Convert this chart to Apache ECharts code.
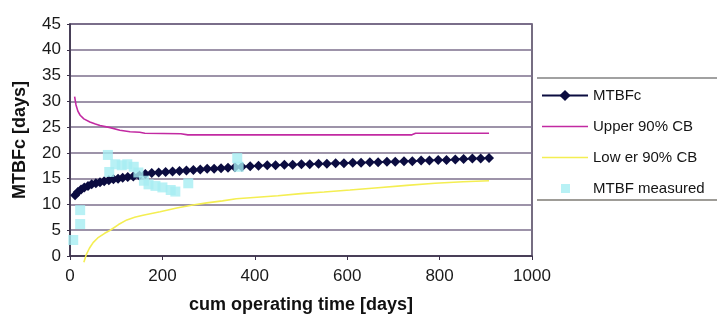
<!DOCTYPE html>
<html>
<head>
<meta charset="utf-8">
<script src="https://cdn.jsdelivr.net/npm/echarts@6/dist/echarts.min.js"></script>
<style>
  html, body { margin: 0; padding: 0; background: #ffffff; }
  #chart { width: 717px; height: 324px; }
</style>
</head>
<body>
<div id="chart"></div>
<script>
// Cumulative MTBF estimate [cum operating time (days), MTBFc (days)]
var mtbfc = [
  [11, 11.8], [17, 12.4], [24, 12.9], [31, 13.3], [39, 13.6], [47, 13.9],
  [56, 14.1], [65, 14.3], [74, 14.5], [84, 14.7], [94, 14.9], [104, 15.0],
  [114, 15.2], [125, 15.3], [137, 15.4], [150, 15.6], [163, 15.9], [177, 16.1],
  [192, 16.2], [207, 16.3], [222, 16.4], [237, 16.5], [252, 16.6], [267, 16.7],
  [282, 16.8], [297, 16.9], [312, 16.9], [327, 17.0], [342, 17.1], [357, 17.2],
  [372, 17.3], [390, 17.4], [408, 17.5], [427, 17.6], [445, 17.6], [464, 17.7],
  [482, 17.7], [501, 17.8], [519, 17.8], [538, 17.9], [556, 17.9], [575, 18.0],
  [593, 18.0], [612, 18.1], [630, 18.1], [649, 18.2], [667, 18.2], [686, 18.3],
  [704, 18.3], [723, 18.4], [741, 18.4], [760, 18.5], [778, 18.5], [797, 18.6],
  [815, 18.6], [834, 18.7], [852, 18.8], [871, 18.9], [889, 18.9], [907, 19.0]
];

// Upper 90% confidence bound
var upperCB = [
  [10, 30.9], [13, 29.3], [17, 28.1], [22, 27.3], [30, 26.6], [43, 26.0],
  [55, 25.6], [65, 25.3], [87, 24.9], [108, 24.4], [130, 24.1], [151, 24.0],
  [162, 23.8], [240, 23.7], [255, 23.5], [740, 23.5], [748, 23.8], [907, 23.8]
];

// Lower 90% confidence bound
var lowerCB = [
  [30, -1.2], [35, 0.2], [42, 1.5], [50, 2.6], [60, 3.5], [75, 4.4], [87, 5.0],
  [105, 6.1], [123, 7.0], [140, 7.5], [158, 7.9], [195, 8.6], [231, 9.3],
  [266, 9.9], [296, 10.3], [330, 10.7], [360, 11.1], [390, 11.3], [450, 11.7],
  [500, 12.1], [550, 12.4], [606, 12.8], [660, 13.2], [729, 13.7], [790, 14.1],
  [851, 14.4], [907, 14.6]
];

// Individually measured MTBF values
var measured = [
  [7, 3.1], [22, 6.2], [22, 8.9], [82, 19.6], [85, 16.3], [98, 17.8],
  [112, 17.6], [124, 17.8], [138, 17.3], [148, 16.2], [160, 14.6], [170, 13.9],
  [185, 13.6], [200, 13.3], [218, 12.8], [228, 12.5], [256, 14.1], [362, 19.0],
  [365, 17.3]
];

var xTicks = { min: 0, max: 1000, step: 200 };
var yTicks = { min: 0, max: 45, step: 5 };

var seriesNames = ['MTBFc', 'Upper 90% CB', 'Low er 90% CB', 'MTBF measured'];

var FONT = '"Liberation Sans", Arial, sans-serif';

// legend glyphs: a thin horizontal stroke for the bounds, a small centred square for the measurements
var LINE_ICON = 'path://M0,6.2 L46,6.2 L46,7.8 L0,7.8 Z';
var SQUARE_ICON = 'path://M0,0 L0.001,0 L0.001,0.001 Z M46,14 L45.999,14 L45.999,13.999 Z M19,2.5 L28,2.5 L28,11.5 L19,11.5 Z';

var chart = echarts.init(document.getElementById('chart'), null, { renderer: 'canvas' });

chart.setOption({
  backgroundColor: '#ffffff',
  animation: false,
  grid: {
    left: 70, right: 185, top: 24, bottom: 68,
    show: true, borderColor: '#4a3e5a', borderWidth: 1.5, backgroundColor: 'transparent'
  },
  xAxis: {
    type: 'value',
    min: xTicks.min, max: xTicks.max, interval: xTicks.step,
    name: 'cum operating time [days]',
    nameLocation: 'middle',
    nameGap: 40,
    nameTextStyle: { fontFamily: FONT, fontWeight: 'bold', fontSize: 18, color: '#111111' },
    axisLine: { lineStyle: { color: '#3a3048', width: 1.5 } },
    axisTick: { show: true, length: 4, lineStyle: { color: '#3a3048' } },
    axisLabel: {
      fontFamily: FONT, fontSize: 17, color: '#1a1a1a', margin: 12,
      formatter: function (v) { return String(v); }
    },
    splitLine: { show: false }
  },
  yAxis: {
    type: 'value',
    min: yTicks.min, max: yTicks.max, interval: yTicks.step,
    name: 'MTBFc [days]',
    nameLocation: 'middle',
    nameGap: 41,
    nameRotate: 90,
    nameTextStyle: { fontFamily: FONT, fontWeight: 'bold', fontSize: 18, color: '#111111' },
    axisLine: { show: true, lineStyle: { color: '#3a3048', width: 1.5 } },
    axisTick: { show: true, length: 3, lineStyle: { color: '#3a3048' } },
    axisLabel: { fontFamily: FONT, fontSize: 17, color: '#1a1a1a', margin: 9 },
    splitLine: { show: true, lineStyle: { color: '#7d6f8c', width: 1.5 } }
  },
  legend: {
    orient: 'vertical',
    left: 541, top: 88,
    itemWidth: 46, itemHeight: 14, itemGap: 16,
    padding: 0,
    textStyle: { fontFamily: FONT, fontSize: 15, color: '#151515', lineHeight: 14, padding: [0, 0, 0, 0] },
    data: [
      { name: seriesNames[0] },
      { name: seriesNames[1], icon: LINE_ICON },
      { name: seriesNames[2], icon: LINE_ICON },
      { name: seriesNames[3], icon: SQUARE_ICON }
    ]
  },
  graphic: [
    { type: 'line', shape: { x1: 537, y1: 78, x2: 717, y2: 78 }, style: { stroke: '#454545', lineWidth: 1.2 } },
    { type: 'line', shape: { x1: 537, y1: 200, x2: 717, y2: 200 }, style: { stroke: '#3f3a30', lineWidth: 1.2 } }
  ],
  series: [
    {
      name: seriesNames[0], type: 'line', data: mtbfc,
      symbol: 'diamond', symbolSize: [10, 10], showSymbol: true,
      lineStyle: { color: '#0b0c40', width: 1.5 },
      itemStyle: { color: '#0b0c40' },
      z: 3
    },
    {
      name: seriesNames[1], type: 'line', data: upperCB,
      symbol: 'none', lineStyle: { color: '#c22aa2', width: 1.6 },
      itemStyle: { color: '#c22aa2' }, z: 2
    },
    {
      name: seriesNames[2], type: 'line', data: lowerCB,
      symbol: 'none', clip: false, lineStyle: { color: '#f4ee52', width: 1.6 },
      itemStyle: { color: '#f4ee52' }, z: 2
    },
    {
      name: seriesNames[3], type: 'scatter', data: measured,
      symbol: 'rect', symbolSize: 10,
      itemStyle: { color: '#a6eef2' },
      z: 4
    }
  ]
});
</script>
</body>
</html>
